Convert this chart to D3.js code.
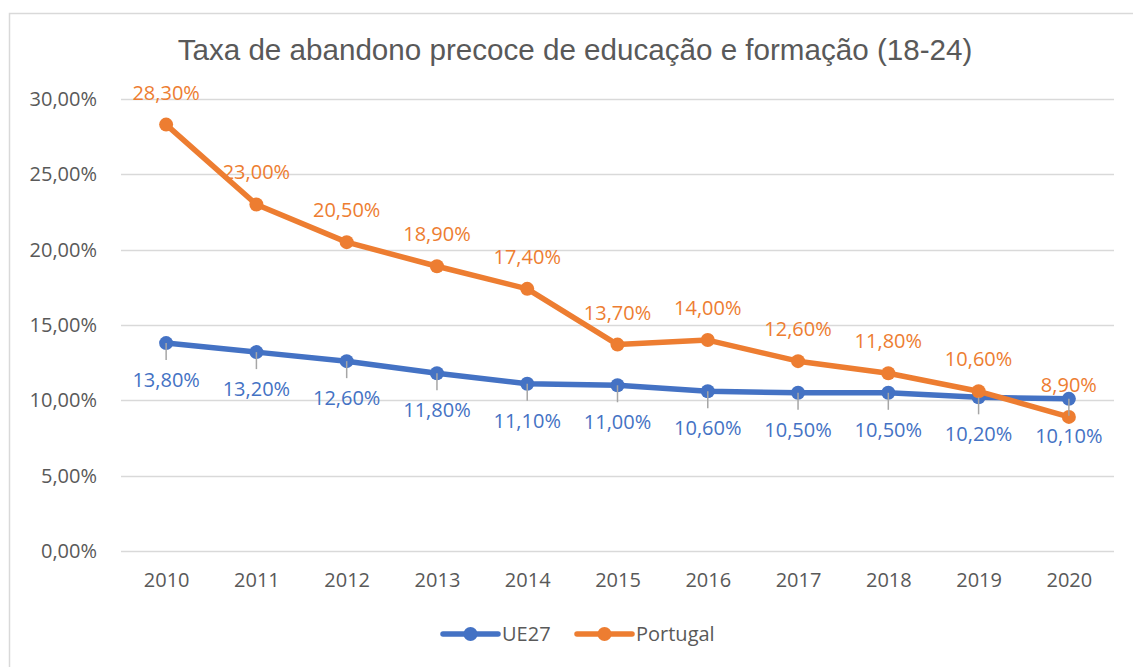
<!DOCTYPE html>
<html>
<head>
<meta charset="utf-8">
<script src="https://cdn.jsdelivr.net/npm/d3@7"></script>
<style>
  body { margin: 0; background: #fff; }
  svg text { font-family: "Open Sans", "Noto Sans", sans-serif; }
</style>
</head>
<body>
<div id="chart"></div>
<script>
// Data
const years = ['2010', '2011', '2012', '2013', '2014', '2015', '2016', '2017', '2018', '2019', '2020'];
const ue27 = [13.8, 13.2, 12.6, 11.8, 11.1, 11.0, 10.6, 10.5, 10.5, 10.2, 10.1];
const portugal = [28.3, 23.0, 20.5, 18.9, 17.4, 13.7, 14.0, 12.6, 11.8, 10.6, 8.9];
const yTicks = [0, 5, 10, 15, 20, 25, 30];
const seriesNames = ['UE27', 'Portugal'];
const titleText = 'Taxa de abandono precoce de educação e formação (18-24)';

const width = 1133, height = 667;
const margin = {top: 99, right: 19, bottom: 116, left: 121};
const colors = {UE27: '#4472C4', Portugal: '#ED7D31'};
const textColor = '#595959';
const gridColor = '#d9d9d9';

const fmt = v => v.toFixed(2).replace('.', ',') + '%';

const svg = d3.select('#chart').append('svg')
    .attr('width', width)
    .attr('height', height);

// Outer chart frame (only left and top edges visible in the crop)
svg.append('path')
    .attr('d', `M9.5,${height} V13.5 H${width}`)
    .attr('fill', 'none')
    .attr('stroke', gridColor)
    .attr('stroke-width', 1.5);

const x = d3.scalePoint()
    .domain(years)
    .range([margin.left, width - margin.right])
    .padding(0.5);

const y = d3.scaleLinear()
    .domain([0, 30])
    .range([height - margin.bottom, margin.top]);

// Gridlines
svg.append('g')
    .selectAll('line')
    .data(yTicks)
  .join('line')
    .attr('x1', margin.left)
    .attr('x2', width - margin.right)
    .attr('y1', d => Math.round(y(d)) + 0.5)
    .attr('y2', d => Math.round(y(d)) + 0.5)
    .attr('stroke', gridColor)
    .attr('stroke-width', 1.5);

// Y axis labels
const yAxis = svg.append('g')
    .attr('transform', `translate(${margin.left - 24},0)`)
    .call(d3.axisLeft(y).tickValues(yTicks).tickFormat(fmt).tickSize(0).tickPadding(0));
yAxis.select('.domain').remove();
yAxis.selectAll('text')
    .attr('fill', textColor)
    .style('font-size', '20px')
    .style('font-family', '"Open Sans", sans-serif');

// X axis labels
const xAxis = svg.append('g')
    .attr('transform', `translate(0,${height - margin.bottom + 22})`)
    .call(d3.axisBottom(x).tickSize(0).tickPadding(0));
xAxis.select('.domain').remove();
xAxis.selectAll('text')
    .attr('fill', textColor)
    .style('font-size', '20px')
    .style('font-family', '"Open Sans", sans-serif');

// Title
svg.append('text')
    .attr('x', 575)
    .attr('y', 60)
    .attr('text-anchor', 'middle')
    .attr('fill', textColor)
    .style('font-family', '"Liberation Sans", Arial, sans-serif')
    .style('font-size', '29.6px')
    .text(titleText);

const series = [
  {name: 'UE27', values: ue27},
  {name: 'Portugal', values: portugal}
];

const line = d3.line()
    .x((d, i) => x(years[i]))
    .y(d => y(d));

const seriesG = svg.append('g')
    .selectAll('g')
    .data(series)
  .join('g');

seriesG.append('path')
    .attr('d', d => line(d.values))
    .attr('fill', 'none')
    .attr('stroke', d => colors[d.name])
    .attr('stroke-width', 5.5)
    .attr('stroke-linejoin', 'round');

seriesG.selectAll('circle')
    .data(d => d.values.map((v, i) => ({v, i, name: d.name})))
  .join('circle')
    .attr('cx', d => x(years[d.i]))
    .attr('cy', d => y(d.v))
    .attr('r', 7)
    .attr('fill', d => colors[d.name]);

// UE27 labels below with leader lines
const blueLabels = svg.append('g');
ue27.forEach((v, i) => {
  const cx = x(years[i]), cy = y(v);
  blueLabels.append('line')
      .attr('x1', cx).attr('x2', cx)
      .attr('y1', cy).attr('y2', cy + 17)
      .attr('stroke', '#a6a6a6')
      .attr('stroke-width', 1.5);
  blueLabels.append('text')
      .attr('x', cx)
      .attr('y', cy + 37)
      .attr('dy', '0.35em')
      .attr('text-anchor', 'middle')
      .attr('fill', colors.UE27)
      .style('font-size', '20px')
      .text(fmt(v));
});

// Portugal labels above
svg.append('g')
    .selectAll('text')
    .data(portugal)
  .join('text')
    .attr('x', (d, i) => x(years[i]))
    .attr('y', d => y(d) - 32)
    .attr('dy', '0.35em')
    .attr('text-anchor', 'middle')
    .attr('fill', colors.Portugal)
    .style('font-size', '20px')
    .text(d => fmt(d));

// Legend
const legendItems = [
  {name: seriesNames[0], x0: 443},
  {name: seriesNames[1], x0: 577}
];
const legend = svg.append('g')
    .attr('transform', 'translate(0,634)');
const li = legend.selectAll('g')
    .data(legendItems)
  .join('g')
    .attr('transform', d => `translate(${d.x0},0)`);
li.append('line')
    .attr('x1', 0).attr('x2', 55)
    .attr('stroke', d => colors[d.name])
    .attr('stroke-width', 5.5)
    .attr('stroke-linecap', 'round');
li.append('circle')
    .attr('cx', 27.5)
    .attr('r', 7)
    .attr('fill', d => colors[d.name]);
li.append('text')
    .attr('x', 59)
    .attr('dy', '0.35em')
    .attr('fill', textColor)
    .style('font-size', '20px')
    .text(d => d.name);
</script>
</body>
</html>
